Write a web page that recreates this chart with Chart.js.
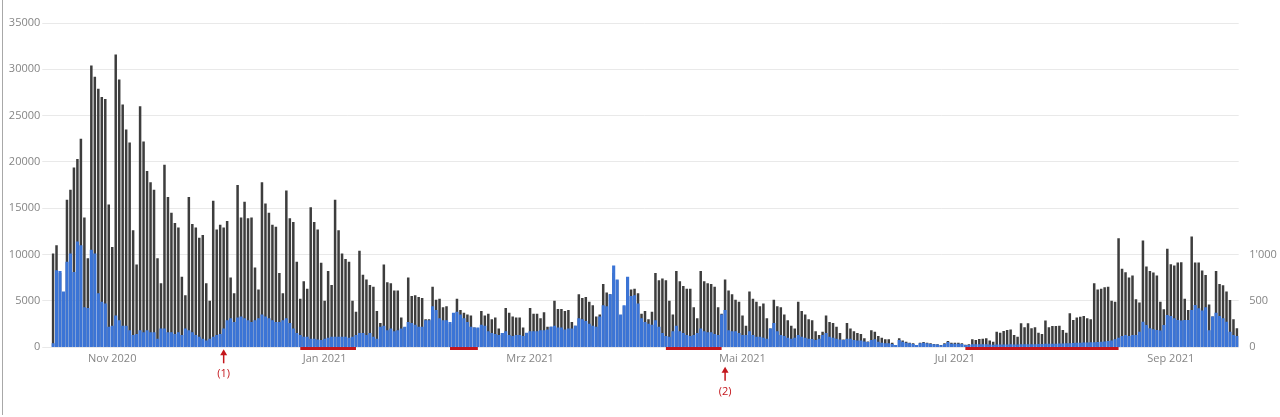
<!DOCTYPE html>
<html>
<head>
<meta charset="utf-8">
<script src="https://cdn.jsdelivr.net/npm/chart.js@4.4.1/dist/chart.umd.min.js"></script>
<style>
  html, body { margin: 0; padding: 0; background: #fff; }
  #wrap { position: relative; width: 1280px; height: 417px; }
</style>
</head>
<body>
<div id="wrap"><canvas id="myChart" width="1280" height="417"></canvas></div>
<script>
// first day of the daily series
var startDate = '2020-10-15';

// dark bars, left axis
var seriesDark = [
  10100, 11000, 8000, 5800, 15900, 17000, 19400, 20300, 22500, 14000,
  9600, 30400, 29200, 27900, 27000, 26800, 15400, 10800, 31600, 28900,
  26200, 23500, 22100, 12600, 8900, 26000, 22200, 19000, 17800, 17000,
  9600, 6900, 19700, 16200, 14500, 13400, 12900, 7600, 5600, 16200,
  13300, 12900, 11800, 12100, 6900, 5000, 15800, 12700, 13200, 12900,
  13600, 7500, 5800, 17500, 14000, 15700, 13900, 14000, 8600, 6200,
  17800, 15500, 14500, 13200, 13000, 8000, 5800, 16900, 13900, 13500,
  9200, 5200, 7100, 6300, 15100, 13500, 12700, 9100, 5000, 8200,
  6700, 15900, 12600, 10100, 9500, 9200, 5000, 3800, 10400, 7800,
  7300, 6700, 6500, 3900, 2600, 8900, 7000, 6900, 6100, 6100,
  3200, 2100, 7500, 5500, 5600, 5400, 5300, 3000, 3000, 6500,
  5100, 5200, 4300, 4400, 2500, 2000, 5200, 4000, 3700, 3500,
  3400, 2100, 2000, 3900, 3400, 3600, 3000, 3200, 2000, 1500,
  4200, 3700, 3300, 3200, 3200, 2100, 1500, 4200, 3600, 3600,
  3100, 3750, 2200, 2200, 5000, 4100, 4100, 3900, 4000, 2700,
  2300, 5700, 5300, 5400, 4900, 4500, 3300, 3500, 6800, 5900,
  5700, 8000, 7200, 3400, 4400, 7500, 6200, 6300, 5800, 3600,
  3900, 3000, 3800, 8000, 7200, 7400, 7200, 5000, 3500, 8200,
  7100, 6600, 6300, 6300, 4300, 3100, 8200, 7100, 6900, 6800,
  6500, 4300, 3600, 7300, 6100, 5700, 5100, 4900, 3400, 2300,
  6000, 5200, 4900, 4400, 4700, 3100, 2000, 5100, 4400, 4300,
  3500, 2900, 2300, 2000, 4900, 3900, 3500, 3000, 2900, 1700,
  1300, 1650, 3400, 2700, 2600, 2200, 1500, 800, 2600, 2000,
  1700, 1500, 1400, 950, 600, 1800, 1660, 1200, 1000, 830,
  830, 470, 220, 940, 690, 580, 470, 400, 220, 470,
  540, 470, 400, 320, 290, 220, 400, 650, 470, 470,
  470, 400, 250, 290, 830, 760, 870, 900, 940, 690,
  580, 1660, 1550, 1730, 1840, 1880, 1300, 1120, 2560, 2130,
  2560, 2020, 2130, 1550, 1400, 2850, 2130, 2270, 2270, 2300,
  1840, 1550, 3640, 2920, 3200, 3280, 3350, 3100, 3000, 6900,
  6200, 6300, 6450, 6500, 5000, 4900, 11760, 8440, 8080, 7500,
  7720, 5160, 4800, 11500, 8700, 8220, 8040, 7720, 4900, 4080,
  10600, 8950, 8800, 9130, 9160, 5200, 4000, 11940, 9130, 9130,
  8260, 7790, 4600, 3300, 8220, 6800, 6670, 5990, 5090, 3000,
  2020
];

// blue bars, right axis
var seriesBlue = [
  40, 830, 820, 600, 920, 1010, 810, 1140, 1100, 430,
  420, 1050, 1010, 580, 490, 470, 220, 230, 340, 290,
  230, 230, 180, 130, 140, 180, 160, 180, 160, 160,
  90, 200, 200, 160, 160, 140, 160, 130, 200, 180,
  160, 130, 110, 90, 70, 90, 110, 130, 140, 200,
  290, 310, 270, 320, 330, 310, 290, 270, 290, 310,
  350, 330, 310, 290, 270, 270, 290, 310, 260, 200,
  150, 130, 110, 110, 90, 90, 80, 75, 90, 100,
  110, 110, 110, 110, 110, 100, 110, 130, 150, 150,
  130, 150, 110, 90, 220, 230, 180, 200, 170, 180,
  200, 220, 270, 260, 240, 220, 220, 290, 290, 440,
  400, 310, 290, 290, 270, 370, 380, 350, 310, 270,
  220, 210, 210, 240, 230, 170, 150, 140, 130, 150,
  170, 130, 120, 130, 130, 120, 155, 170, 170, 170,
  180, 180, 190, 220, 230, 210, 210, 190, 200, 200,
  230, 310, 300, 280, 250, 230, 220, 330, 450, 440,
  570, 880, 730, 350, 450, 760, 550, 560, 470, 310,
  270, 250, 240, 290, 220, 150, 120, 110, 170, 230,
  170, 150, 130, 120, 130, 150, 200, 170, 160, 160,
  140, 130, 350, 400, 180, 170, 170, 150, 130, 130,
  170, 130, 110, 110, 100, 90, 200, 260, 170, 130,
  120, 100, 90, 100, 130, 110, 100, 90, 87, 76,
  90, 130, 150, 110, 100, 90, 80, 76, 90, 90,
  76, 70, 70, 60, 55, 76, 83, 58, 47, 40,
  40, 32, 22, 76, 58, 47, 40, 32, 22, 40,
  47, 40, 32, 29, 26, 20, 32, 54, 35, 35,
  34, 32, 22, 22, 30, 30, 30, 30, 30, 28,
  25, 28, 28, 28, 28, 30, 28, 28, 30, 30,
  30, 30, 30, 32, 32, 35, 35, 35, 35, 38,
  38, 40, 40, 42, 45, 45, 48, 48, 50, 52,
  55, 56, 60, 65, 70, 83, 101, 119, 130, 119,
  130, 130, 166, 274, 238, 202, 191, 184, 177, 238,
  346, 335, 310, 292, 285, 292, 292, 400, 455, 418,
  393, 429, 180, 330, 370, 335, 310, 274, 166, 130,
  119
];

// x axis month labels
var monthDates = ['2020-11-01', '2021-01-01', '2021-03-01', '2021-05-01', '2021-07-01', '2021-09-01'];
var monthLabels = ['Nov 2020', 'Jan 2021', 'Mrz 2021', 'Mai 2021', 'Jul 2021', 'Sep 2021'];

// right axis shows only these
var rightTickValues = [0, 500, 1000];
var rightTickLabels = ['0', '500', "1'000"];

// red marks under the axis
var markSpans = [
  ['2020-12-25', '2021-01-10'],
  ['2021-02-06', '2021-02-14'],
  ['2021-04-09', '2021-04-25'],
  ['2021-07-04', '2021-08-17']
];
var markArrowDates = ['2020-12-03', '2021-04-26'];
var markArrowTexts = ['(1)', '(2)'];

// build day labels
var days = [];
var d0 = new Date(startDate + 'T00:00:00Z');
for (var i = 0; i < seriesDark.length; i++) {
  var d = new Date(d0.getTime() + i * 86400000);
  days.push(d.toISOString().slice(0, 10));
}

var markColor = '#c4161c';

var marksPlugin = {
  id: 'marks',
  afterDraw: function(chart) {
    var ctx = chart.ctx;
    var xs = chart.scales.x;
    var bottom = chart.chartArea.bottom;
    ctx.save();

    // frame line on the left
    ctx.strokeStyle = '#a8a8a8';
    ctx.lineWidth = 1;
    ctx.beginPath();
    ctx.moveTo(2.5, 0);
    ctx.lineTo(2.5, chart.height - 2);
    ctx.stroke();

    // underlines
    ctx.strokeStyle = markColor;
    ctx.lineWidth = 3;
    markSpans.forEach(function(s) {
      var a = xs.getPixelForValue(days.indexOf(s[0]));
      var b = xs.getPixelForValue(days.indexOf(s[1]));
      ctx.beginPath();
      ctx.moveTo(a, bottom + 1.5);
      ctx.lineTo(b, bottom + 1.5);
      ctx.stroke();
    });

    // arrows, second one sits below the month label
    var drops = [2.3, 19.7];
    ctx.fillStyle = markColor;
    ctx.font = "11px 'Open Sans', sans-serif";
    ctx.textAlign = 'center';
    ctx.textBaseline = 'middle';
    markArrowDates.forEach(function(dt, k) {
      var px = xs.getPixelForValue(days.indexOf(dt));
      var tip = bottom + drops[k];
      ctx.beginPath();
      ctx.moveTo(px, tip);
      ctx.lineTo(px - 3.5, tip + 6);
      ctx.lineTo(px + 3.5, tip + 6);
      ctx.closePath();
      ctx.fill();
      ctx.lineWidth = 1.5;
      ctx.strokeStyle = markColor;
      ctx.beginPath();
      ctx.moveTo(px, tip + 5);
      ctx.lineTo(px, tip + 14);
      ctx.stroke();
      ctx.fillText(markArrowTexts[k], px, tip + 25);
    });
    ctx.restore();
  }
};

Chart.defaults.font.family = "'Open Sans', sans-serif";
Chart.defaults.font.size = 11;
Chart.defaults.color = '#858585';

var ctx = document.getElementById('myChart').getContext('2d');
var chart = new Chart(ctx, {
  type: 'bar',
  data: {
    labels: days,
    datasets: [{
      label: 'blue',
      data: seriesBlue,
      yAxisID: 'yRight',
      backgroundColor: '#3b74d6',
      grouped: false,
      barPercentage: 0.9,
      categoryPercentage: 1,
      order: 0
    }, {
      label: 'dark',
      data: seriesDark,
      yAxisID: 'y',
      backgroundColor: '#3d3d3d',
      grouped: false,
      barPercentage: 0.72,
      categoryPercentage: 1,
      order: 1
    }]
  },
  options: {
    responsive: false,
    animation: false,
    devicePixelRatio: 1,
    layout: { padding: { top: 23, left: 0, right: 0, bottom: 0 } },
    plugins: { legend: { display: false }, tooltip: { enabled: false } },
    scales: {
      x: {
        grid: { display: false, drawTicks: false },
        border: { display: false },
        ticks: {
          autoSkip: false,
          maxRotation: 0,
          minRotation: 0,
          padding: 5,
          callback: function(v, idx) {
            var k = monthDates.indexOf(days[idx]);
            return k >= 0 ? monthLabels[k] : null;
          }
        },
        afterFit: function(s) { s.height = 70; }
      },
      y: {
        position: 'left',
        min: 0,
        max: 35000,
        grid: { color: '#e9e9e9', lineWidth: 1, drawTicks: true, tickLength: 9 },
        border: { display: false },
        ticks: {
          stepSize: 5000,
          padding: 2,
          callback: function(v) { return String(v); }
        },
        afterFit: function(s) { s.width = 51.3; }
      },
      yRight: {
        position: 'right',
        min: 0,
        max: 3500,
        grid: { display: false, drawTicks: false },
        border: { display: false },
        ticks: {
          stepSize: 500,
          padding: 10.5,
          callback: function(v) {
            var k = rightTickValues.indexOf(v);
            return k >= 0 ? rightTickLabels[k] : null;
          }
        },
        afterFit: function(s) { s.width = 41.3; }
      }
    }
  },
  plugins: [marksPlugin]
});
</script>
</body>
</html>
